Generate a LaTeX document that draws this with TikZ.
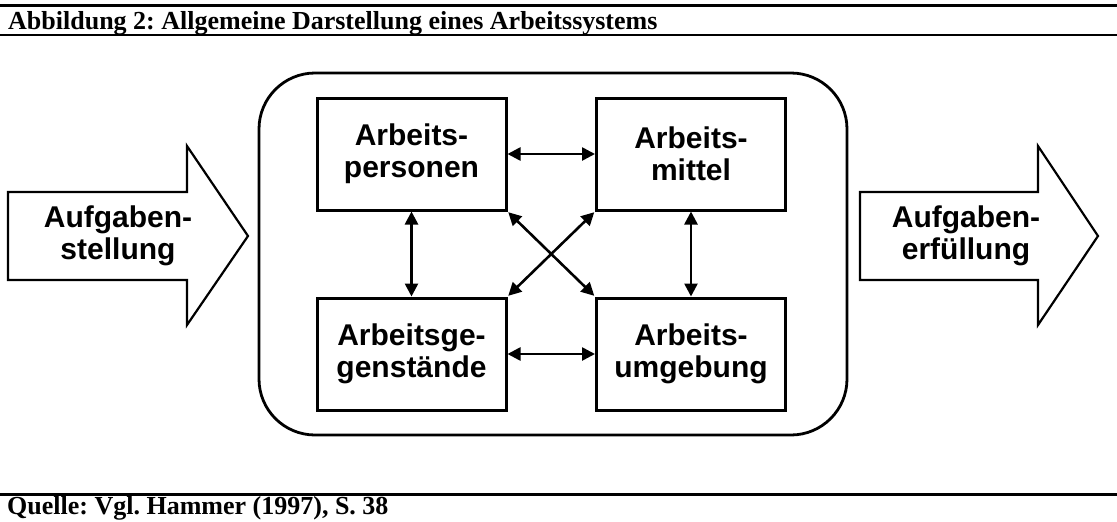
\documentclass[tikz,border=0pt]{standalone}
\usepackage{fontspec}
\setmainfont{Liberation Serif}
\newfontfamily\arialfont{Liberation Sans}
\usetikzlibrary{arrows.meta}
\frenchspacing

\begin{document}
\begin{tikzpicture}[x=1pt,y=-1pt,
  rule/.style={line width=2.8pt},
  caption/.style={font=\fontsize{26}{28}\selectfont\bfseries, inner sep=0pt, anchor=base west},
  bigtext/.style={font=\arialfont\bfseries\fontsize{30}{32}\selectfont, align=center, inner sep=0pt},
  elem/.style={bigtext, draw, line width=3pt, minimum width=189pt, minimum height=112pt},
  frame/.style={draw, line width=2.8pt, rounded corners=56pt},
  blockarrow/.style={draw, line width=2.2pt, line join=miter},
  link/.style={{Triangle[length=13pt,width=13pt]}-{Triangle[length=13pt,width=13pt]}, line width=2.6pt}
]
\useasboundingbox (0,0) rectangle (1117,522);

% header and footer
\draw[rule] (0,5.3) -- (1117,5.3);
\node[caption] (title) at (8,29.5) {Abbildung 2: Allgemeine Darstellung eines Arbeitssystems};
\draw[rule] (0,35) -- (1117,35);

\draw[rule] (0,494.7) -- (1117,494.7);
\node[caption] (source) at (7,514) {Quelle: Vgl. Hammer (1997), S. 38};

% work system frame
\draw[frame] (259,73) rectangle (847,435);

% input and output block arrows
\draw[blockarrow] (8,192) -- (187,192) -- (187,146) -- (248,236) -- (187,325)
  -- (187,280) -- (8,280) -- cycle;
\node[bigtext] (task) at (118,236) {Aufgaben-\\stellung};

\draw[blockarrow] (860,192) -- (1038,192) -- (1038,146) -- (1098,236) -- (1038,325)
  -- (1038,280) -- (860,280) -- cycle;
\node[bigtext] (done) at (966,236) {Aufgaben-\\erfüllung};

% system elements
\node[elem] (pers) at (411.5,154) {Arbeits-\\personen};
\node[elem] (mitt) at (691,154) {Arbeits-\\mittel};
\node[elem] (geg)  at (411.5,354) {Arbeitsge-\\genstände};
\node[elem] (umg)  at (691,354) {Arbeits-\\umgebung};

% relations between the elements
\draw[link] (pers.east) -- (mitt.west);
\draw[link] (geg.east) -- (umg.west);
\draw[link] (pers.south) -- (geg.north);
\draw[link] (mitt.south) -- (umg.north);
\draw[link, shorten <=1pt, shorten >=1pt] (pers.south east) -- (umg.north west);
\draw[link, shorten <=1pt, shorten >=1pt] (mitt.south west) -- (geg.north east);
\end{tikzpicture}
\end{document}
